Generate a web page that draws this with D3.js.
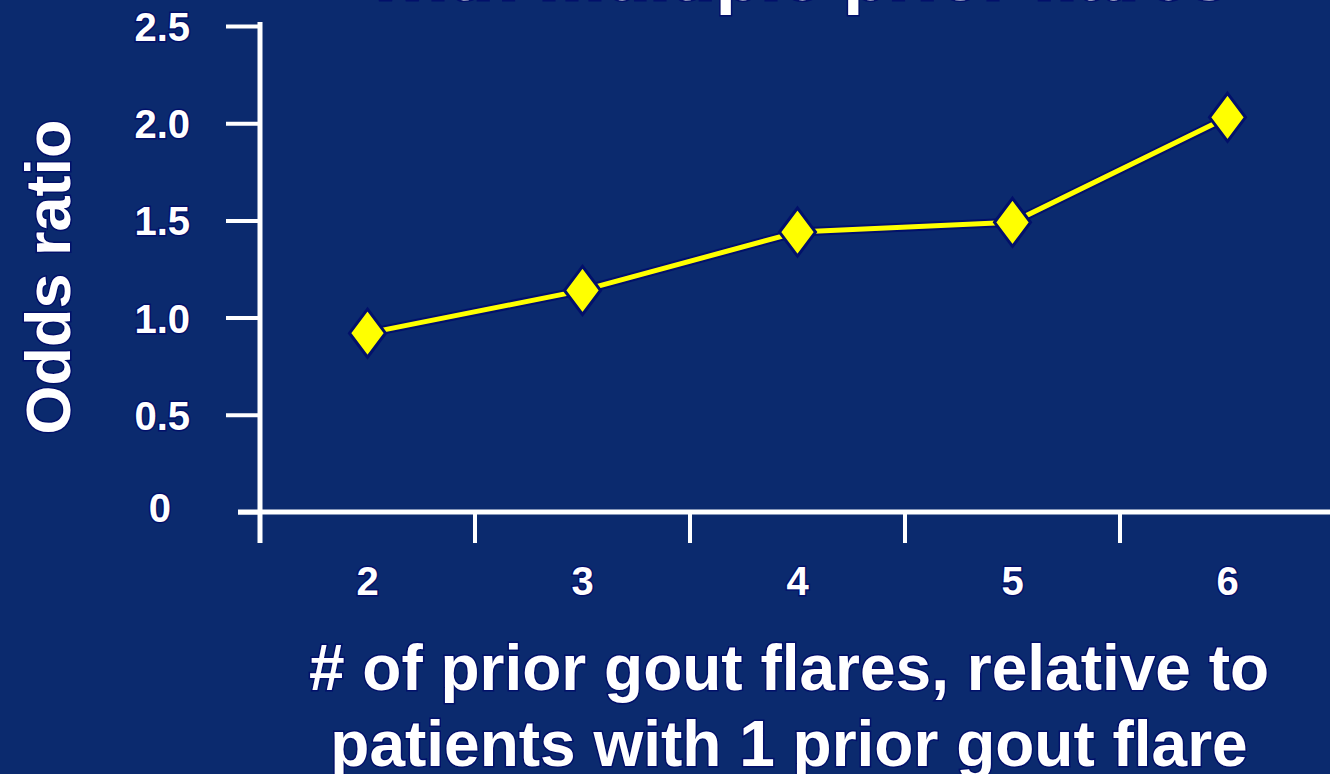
<!DOCTYPE html>
<html>
<head>
<meta charset="utf-8">
<script src="https://cdn.jsdelivr.net/npm/d3@7"></script>
<style>
  html, body { margin: 0; padding: 0; background: #0b2a6e; overflow: hidden; }
  svg { display: block; }
  text { font-family: "Liberation Sans", Arial, sans-serif; font-weight: bold; fill: #ffffff;
         stroke: #02106a; stroke-width: 3px; paint-order: stroke; }
</style>
</head>
<body>
<svg id="chart" width="1330" height="774"></svg>
<script>
// Odds ratio of a gout flare by number of prior flares (reference: 1 prior flare)
const categories = ["2", "3", "4", "5", "6"];
const oddsRatios = [0.92, 1.14, 1.44, 1.49, 2.03];
const yTickValues = [0, 0.5, 1.0, 1.5, 2.0, 2.5];
const yTickLabels = ["0", "0.5", "1.0", "1.5", "2.0", "2.5"];
const titleText = "with multiple prior flares";
const yTitleText = "Odds ratio";
const xTitleLines = ["# of prior gout flares, relative to", "patients with 1 prior gout flare"];

const W = 1330, H = 774;
const svg = d3.select("#chart");
svg.append("rect").attr("width", W).attr("height", H).attr("fill", "#0b2a6e");

const x = d3.scaleBand().domain(categories).range([260, 1335]).padding(0);
const y = d3.scaleLinear().domain([0, 2.5]).range([512, 26]);
const x0 = x.range()[0];

// Title: its baseline sits on the top edge, so only descenders show
svg.append("text")
  .attr("x", 800).attr("y", 0)
  .attr("text-anchor", "middle")
  .style("font-size", "74px")
  .text(titleText);

// Y axis
const yAxis = d3.axisLeft(y)
  .tickValues(yTickValues)
  .tickFormat((d, i) => yTickLabels[i])
  .tickSize(34)
  .tickPadding(36);
const gy = svg.append("g").attr("transform", `translate(${x0},0)`).call(yAxis);
gy.select(".domain").remove();
gy.selectAll(".tick line").attr("stroke", "#fff").attr("stroke-width", 4);
gy.selectAll(".tick text").style("font-size", "40px").attr("dy", "0.36em");
// zero tick is shorter and its label sits a little higher and further in
gy.selectAll(".tick").filter(d => d === 0).select("line").attr("x2", -22);
gy.selectAll(".tick").filter(d => d === 0).select("text").attr("dx", -19).attr("dy", "0.24em");

// X axis labels centred in each band
const xAxis = d3.axisBottom(x).tickSize(0).tickPadding(0);
const gx = svg.append("g").attr("transform", `translate(0,${y(0)})`).call(xAxis);
gx.select(".domain").remove();
gx.selectAll(".tick text").style("font-size", "40px").attr("y", 83).attr("dy", "0");

// X tick marks on band boundaries
svg.append("g").selectAll("line")
  .data(categories.slice(1))
  .join("line")
  .attr("x1", d => x(d)).attr("x2", d => x(d))
  .attr("y1", y(0)).attr("y2", y(0) + 31)
  .attr("stroke", "#fff").attr("stroke-width", 4);

// Axis lines
svg.append("line")
  .attr("x1", x0).attr("x2", x0)
  .attr("y1", y(2.5) - 4).attr("y2", y(0) + 31)
  .attr("stroke", "#fff").attr("stroke-width", 5);
svg.append("line")
  .attr("x1", x0 - 22).attr("x2", W)
  .attr("y1", y(0)).attr("y2", y(0))
  .attr("stroke", "#fff").attr("stroke-width", 5);

// Axis titles
svg.append("text")
  .attr("transform", "translate(70,277) rotate(-90)")
  .attr("text-anchor", "middle")
  .style("font-size", "63px")
  .text(yTitleText);

svg.append("g").selectAll("text")
  .data(xTitleLines)
  .join("text")
  .attr("x", 789)
  .attr("y", (d, i) => 690 + i * 76)
  .attr("text-anchor", "middle")
  .style("font-size", "64px")
  .text(d => d);

// Series line and diamond markers
const data = categories.map((c, i) => ({ c, v: oddsRatios[i] }));
const cx = d => x(d.c) + x.bandwidth() / 2;

const line = d3.line().x(cx).y(d => y(d.v));
svg.append("path").datum(data)
  .attr("d", line).attr("fill", "none")
  .attr("stroke", "#02106a").attr("stroke-width", 9).attr("stroke-linejoin", "round");
svg.append("path").datum(data)
  .attr("d", line).attr("fill", "none")
  .attr("stroke", "#ffff00").attr("stroke-width", 5).attr("stroke-linejoin", "round");

const hw = 18, hh = 24;
svg.append("g").selectAll("path")
  .data(data)
  .join("path")
  .attr("transform", d => `translate(${cx(d)},${y(d.v)})`)
  .attr("d", `M0,${-hh}L${hw},0L0,${hh}L${-hw},0Z`)
  .attr("fill", "#ffff00")
  .attr("stroke", "#02106a").attr("stroke-width", 3);
</script>
</body>
</html>
